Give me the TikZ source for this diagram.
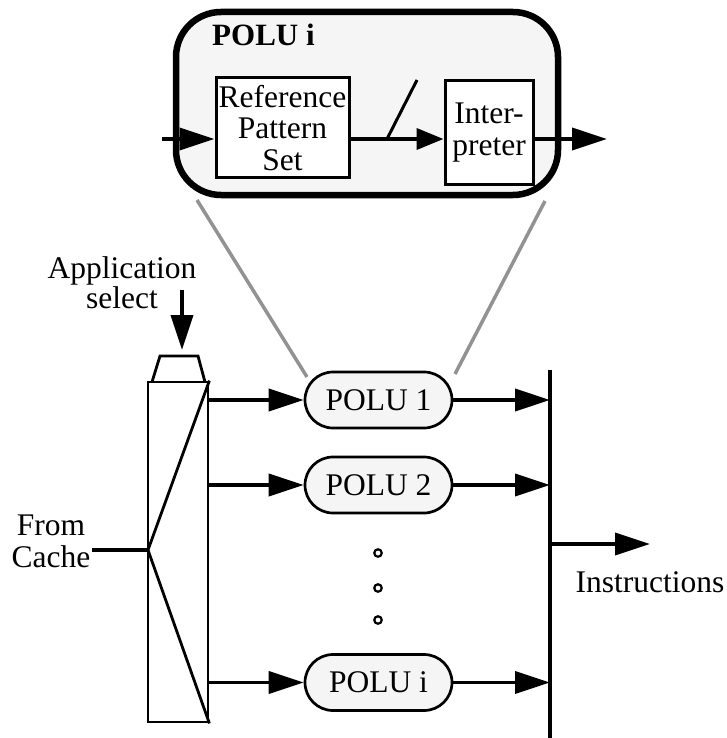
\documentclass[tikz,border=0pt]{standalone}
\usepackage{fontspec}
\setmainfont{Liberation Serif}
\usetikzlibrary{arrows.meta}
\definecolor{panel}{HTML}{F5F5F5}
\definecolor{zoomline}{HTML}{929292}

\begin{document}
\begin{tikzpicture}[x=1pt,y=-1pt,
  txt/.style={font=\fontsize{31.5}{31}\selectfont, inner sep=0pt, align=center},
  flow/.style={line width=3.8pt, -{Triangle[length=35pt,width=22pt]}},
  shortflow/.style={line width=3.8pt, -{Triangle[length=27pt,width=21pt]}},
  plain/.style={line width=3.8pt},
  unit/.style={draw, line width=2.7pt, fill=panel, rounded corners=28pt,
    minimum width=147pt, minimum height=56pt, inner sep=0pt,
    font=\fontsize{31.5}{31}\selectfont},
  block/.style={draw, line width=3pt, fill=white, inner sep=0pt, align=center,
    font=\fontsize{31.5}{31.5}\selectfont},
  zoomlink/.style={draw=zoomline, line width=3.5pt},
  dotmark/.style={circle, draw, line width=2.2pt, minimum size=7.5pt, inner sep=0pt}
]
\useasboundingbox (0,0) rectangle (726,738);

% ---- enlarged view of one POLU ----
\node[draw, line width=6.5pt, fill=panel, rounded corners=45pt,
      minimum width=382pt, minimum height=183pt] (detail) at (367,103.5) {};
\node[font=\fontsize{31}{31}\selectfont\bfseries, inner sep=0pt, anchor=base west]
      (title) at (212,46) {POLU i};
\node[block, minimum width=133pt, minimum height=100pt] (refset) at (282.5,128)
      {Reference\\Pattern\\Set};
\node[block, minimum width=88pt, minimum height=104pt] (interp) at (489,132.5)
      {Inter-\\preter};

\coordinate (din) at (162,139);
\coordinate (dout) at (607,139);
\draw[flow] (din) -- (din -| refset.west);
\draw[shortflow] (din -| refset.east) -- (din -| interp.west);
\draw[flow] (din -| interp.east) -- (dout);
% bus-width mark
\draw[line width=3pt] (387,139) -- (417,80);

% ---- selector ----
\node[draw, line width=2.8pt, minimum width=60pt, minimum height=340pt, inner sep=0pt]
      (mux) at (178,552) {};
\draw[line width=2.8pt] (152,382) -- (160,356) -- (198,356) -- (205,382);
\coordinate (fork) at (148,550);
\draw[line width=2.8pt] (mux.north east) -- (fork) -- (mux.south east);

\node[txt, font=\fontsize{31.5}{30}\selectfont] (applbl) at (122,283) {Application\\select};
\coordinate (selin) at (182,290);
\coordinate (selout) at (182,350);
\draw[flow] (selin) -- (selout);

\node[txt, font=\fontsize{31.5}{32}\selectfont] (cachelbl) at (51,541) {From\\Cache};
\coordinate (cachein) at (92,550);
\draw[plain] (cachein) -- (fork);

% ---- POLU units ----
\node[unit] (p1) at (378.5,400) {POLU 1};
\node[unit] (p2) at (378.5,485) {POLU 2};
\node[unit] (pi) at (378.5,682.5) {POLU i};

\node[dotmark] (d1) at (378,553) {};
\node[dotmark] (d2) at (378,588) {};
\node[dotmark] (d3) at (378,620) {};

\draw[flow] (mux.east |- p1.west) -- (p1.west);
\draw[flow] (mux.east |- p2.west) -- (p2.west);
\draw[flow] (mux.east |- pi.west) -- (pi.west);

% ---- output bus ----
\coordinate (bustop) at (550,370);
\coordinate (busbot) at (550,738);
\draw[line width=4.5pt] (bustop) -- (busbot);
\draw[flow] (p1.east) -- (p1.east -| bustop);
\draw[flow] (p2.east) -- (p2.east -| bustop);
\draw[flow] (pi.east) -- (pi.east -| bustop);

\coordinate (instart) at (550,544);
\coordinate (inend) at (650,544);
\draw[flow] (instart) -- (inend);
\node[txt, anchor=base] (instlbl) at (650,592) {Instructions};

% ---- zoom guide lines ----
\coordinate (zl1) at (197,200);
\coordinate (zl2) at (307,377);
\coordinate (zr1) at (545,201);
\coordinate (zr2) at (455,374);
\draw[zoomlink] (zl1) -- (zl2);
\draw[zoomlink] (zr1) -- (zr2);
\end{tikzpicture}
\end{document}
